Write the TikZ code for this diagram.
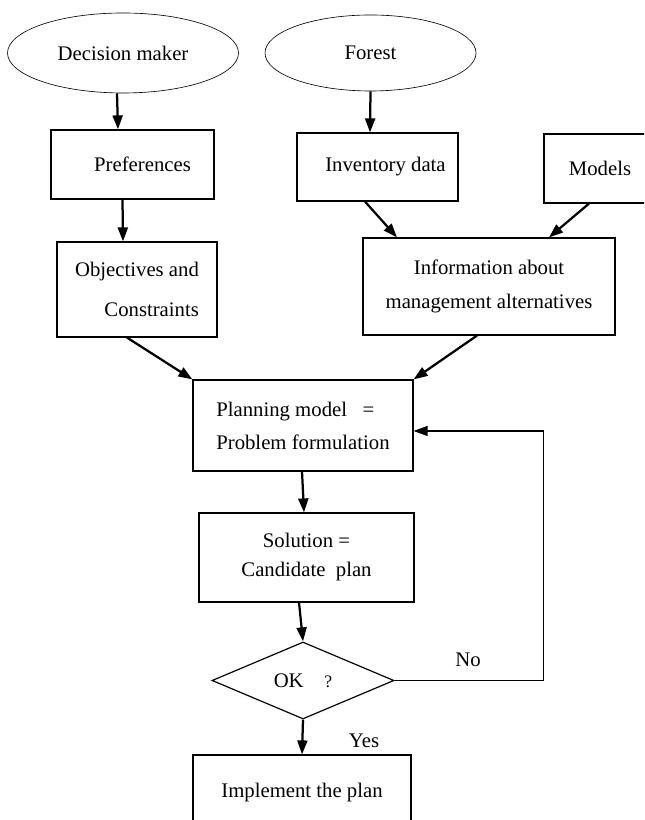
\documentclass[tikz,border=0pt]{standalone}
\usepackage{fontspec}
\setmainfont{Liberation Serif}
\usetikzlibrary{shapes.geometric,arrows.meta}

\begin{document}
\begin{tikzpicture}[
		box/.style={rectangle, draw, line width=1.7pt, inner sep=0pt},
		oval/.style={ellipse, draw, line width=0.9pt, inner sep=0pt},
		flow/.style={line width=3.2pt, -{Triangle[length=0.7cm,width=0.5cm]}},
		every node/.style={font=\fontsize{29.5}{35}\selectfont}
		]
		
		\useasboundingbox (0,0) rectangle (32.2,41);
		\clip (0,0) rectangle (32.2,41);
		
		% Sources
		
		\node[oval, minimum width=11.55cm, minimum height=4cm]
		(dm) at (6.15,38.35) {Decision maker};
		
		\node[oval, minimum width=10.55cm, minimum height=3.8cm]
		(forest) at (18.525,38.35) {Forest};
		
		\node[box, minimum width=8.15cm, minimum height=3.45cm]
		(pref) at (6.625,32.775) {\hspace{1cm}Preferences};
		
		\node[box, minimum width=8.05cm, minimum height=3.4cm]
		(inv) at (18.875,32.65) {\hspace{0.8cm}Inventory data};
		
		\node[box, minimum width=5.6cm, minimum height=3.45cm]
		(models) at (30.0,32.575) {Models};
		
		\node[box, align=right, minimum width=8cm, minimum height=4.75cm]
		(obj) at (6.85,26.525) {Objectives and\\[0.77cm]Constraints};
		
		\node[box, align=center, minimum width=12.6cm, minimum height=4.85cm]
		(info) at (24.45,26.675) {Information about\\[0.47cm]management alternatives};
		
		% Planning loop
		
		\node[box, align=left, minimum width=11cm, minimum height=4.55cm]
		(plan) at (15.15,19.725) {Planning model\ \ \ =\\[0.42cm]Problem formulation};
		
		\node[box, align=center, minimum width=10.75cm, minimum height=4.45cm]
		(sol) at (15.325,13.125) {Solution =\\[0.22cm]Candidate\ \ plan};
		
		\node[diamond, draw, line width=1.7pt, inner sep=0pt, minimum width=9.1cm, minimum height=3.85cm]
		(ok) at (15.15,6.975) {OK\quad{\fontsize{25}{30}\selectfont ?}};
		
		\node[box, minimum width=10.9cm, minimum height=3.8cm]
		(impl) at (15.1,1.35) {Implement the plan};
		
		\node (no) at (23.4,8.0) {No};
		\node (yes) at (18.2,3.95) {Yes};
		
		% Arrows
		
		\draw[flow] ([xshift=-0.3cm]dm.south) -- ([xshift=-0.725cm]pref.north);
		
		\draw[flow] ([xshift=-0.5cm]pref.south) -- ([xshift=-0.7cm]obj.north);
		
		\draw[flow] (forest.south) -- ([xshift=-0.375cm]inv.north);
		
		\draw[flow] ([xshift=-0.625cm]inv.south) -- ([xshift=-4.6cm]info.north);
		
		\draw[flow] ([xshift=-0.55cm]models.south) -- ([xshift=3cm]info.north);
		
		\draw[flow] ([xshift=-0.5cm]obj.south) -- (plan.north west);
		
		\draw[flow] ([xshift=-0.6cm]info.south) -- (plan.north east);
		
		\draw[flow] ([xshift=-0.05cm]plan.south) -- ([xshift=-0.125cm]sol.north);
		
		\draw[flow] ([xshift=-0.375cm]sol.south) -- (ok.north);
		
		\draw[flow] (ok.south) -- (impl.north);
		
		% Feedback
		
		\draw[flow, line width=1.7pt] (ok.east) -- ++(7.45,0) |- ([yshift=-0.275cm]plan.east);
		
	\end{tikzpicture}
\end{document}
